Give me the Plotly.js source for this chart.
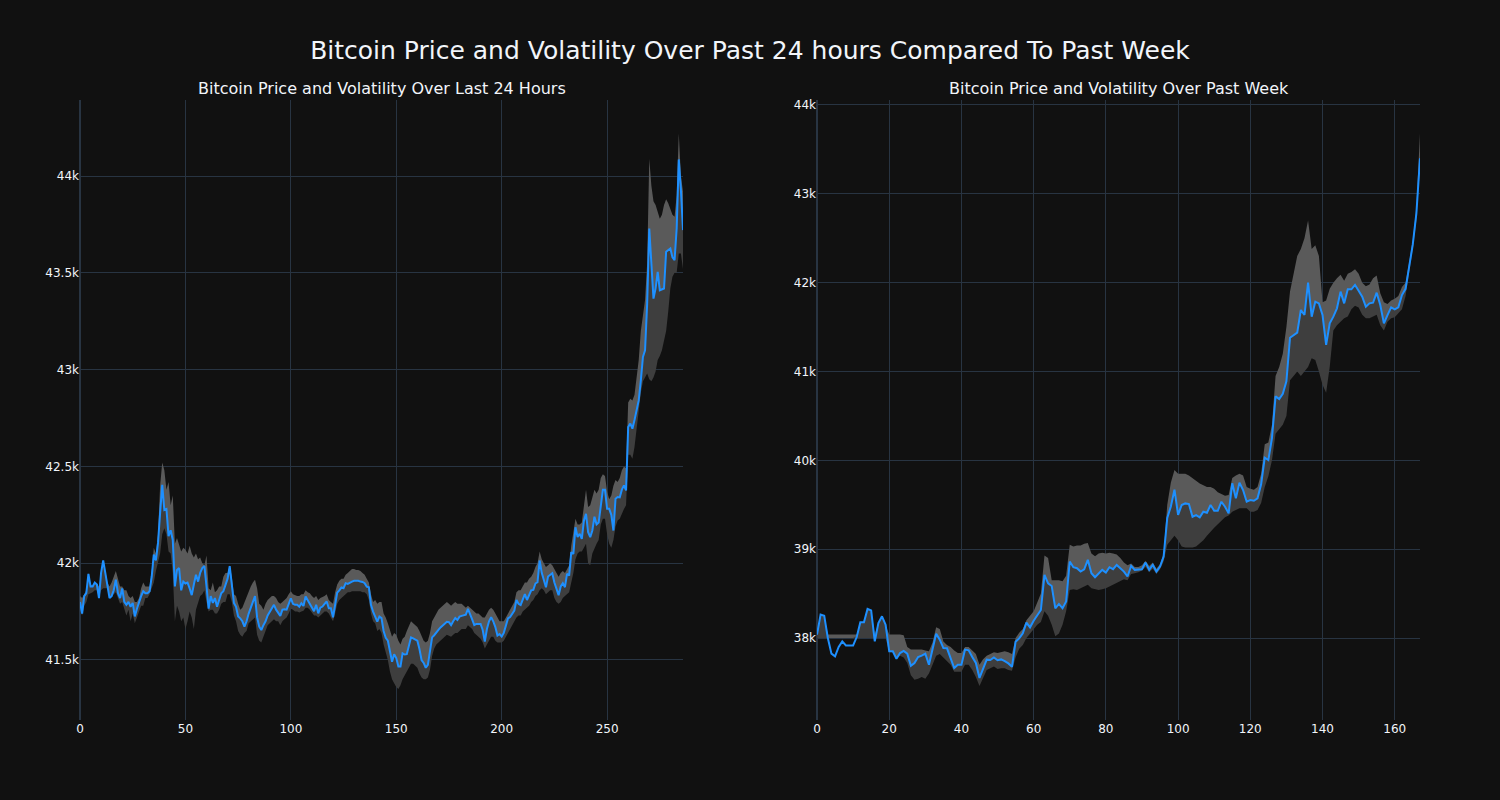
<!DOCTYPE html>
<html>
<head>
<meta charset="utf-8">
<script src="https://cdn.plot.ly/plotly-3.0.1.min.js"></script>
<style>html,body{margin:0;padding:0;background:#111111;}#chart{width:1500px;height:800px;}</style>
</head>
<body>
<div id="chart"></div>
<script>
// ---- Left panel: last 24 hours (index of 5-minute samples) ----
const dayPrice = [
41800,41740,41830,41845,41945,41880,41880,41900,41890,41820,
41950,42015,41950,41890,41820,41830,41860,41915,41845,41820,
41870,41800,41785,41800,41775,41795,41725,41765,41800,41830,
41855,41845,41845,41855,41930,42045,42015,42105,42260,42405,
42275,42280,42140,42170,42120,41880,41965,41975,41860,41905,
41895,41900,41870,41835,41890,41940,41905,41950,41975,41985,
41880,41765,41830,41795,41820,41775,41810,41845,41855,41890,
41920,41985,41880,41795,41775,41725,41715,41700,41672,41700,
41740,41775,41800,41830,41720,41672,41655,41680,41700,41730,
41750,41767,41785,41760,41740,41728,41760,41762,41760,41790,
41819,41790,41785,41785,41775,41793,41779,41828,41810,41790,
41770,41752,41785,41741,41770,41776,41790,41802,41767,41767,
41721,41790,41848,41860,41875,41871,41897,41893,41900,41905,
41909,41909,41909,41905,41903,41897,41879,41876,41785,41750,
41725,41698,41724,41716,41650,41615,41600,41534,41491,41530,
41510,41466,41466,41534,41528,41530,41575,41617,41612,41605,
41600,41557,41500,41485,41460,41475,41550,41617,41628,41645,
41655,41668,41678,41688,41697,41695,41680,41700,41717,41707,
41724,41728,41732,41734,41764,41740,41710,41680,41686,41686,
41686,41655,41595,41660,41700,41721,41700,41670,41626,41634,
41621,41640,41678,41715,41722,41740,41755,41810,41790,41784,
41810,41840,41810,41840,41860,41862,41895,41902,42014,41950,
41910,41876,41931,41940,41948,41900,41865,41835,41880,41897,
41876,41945,41936,42057,42048,42186,42135,42152,42126,42220,
42255,42160,42135,42169,42240,42200,42210,42300,42379,42379,
42281,42281,42250,42169,42333,42342,42340,42380,42402,42376,
42704,42721,42695,42740,42800,42841,42945,43066,43100,43341,
43729,43566,43367,43420,43505,43410,43415,43419,43609,43620,
43626,43580,43566,43729,44086,43928,43721
];
const dayUpper = [
41830,41820,41840,41860,41950,41890,41885,41900,41895,41880,
41950,42015,41960,41900,41880,41900,41930,41960,41920,41880,
41880,41860,41860,41830,41820,41830,41800,41800,41820,41870,
41900,41880,41880,41880,41960,42080,42050,42150,42400,42520,
42480,42380,42420,42300,42350,42100,42130,42090,42060,42080,
42070,42050,42090,42050,42030,42050,42020,42030,42000,41990,
42040,41870,41860,41900,41850,41860,41880,41880,41930,41950,
41950,41990,41930,41840,41830,41790,41760,41770,41800,41820,
41860,41880,41900,41915,41870,41790,41780,41760,41790,41810,
41820,41830,41830,41820,41800,41790,41800,41810,41820,41840,
41855,41840,41835,41830,41830,41840,41840,41860,41850,41845,
41830,41820,41830,41810,41820,41825,41830,41840,41810,41800,
41790,41850,41890,41910,41920,41920,41940,41950,41960,41970,
41970,41965,41965,41960,41950,41940,41920,41900,41840,41800,
41810,41790,41800,41800,41740,41720,41690,41650,41620,41640,
41630,41600,41580,41610,41620,41650,41680,41700,41690,41680,
41670,41650,41620,41600,41590,41600,41640,41700,41720,41740,
41760,41770,41780,41790,41800,41790,41780,41790,41800,41790,
41790,41790,41780,41770,41780,41770,41760,41750,41740,41740,
41730,41720,41720,41740,41760,41770,41760,41740,41720,41700,
41700,41700,41720,41740,41760,41780,41800,41850,41860,41860,
41880,41900,41900,41920,41930,41950,41980,42000,42060,42020,
42000,41980,41990,42000,41990,41970,41950,41930,41950,41960,
41950,41970,41990,42090,42150,42230,42200,42200,42210,42300,
42380,42290,42300,42340,42380,42360,42380,42440,42460,42450,
42370,42330,42350,42400,42430,42420,42440,42480,42500,42490,
42830,42850,42840,42870,42950,43050,43200,43280,43360,43550,
44090,43950,43870,43850,43820,43780,43800,43850,43880,43860,
43830,43800,43790,43900,44220,44000,43920
];
const dayLower = [
41760,41730,41780,41800,41840,41845,41850,41860,41860,41820,
41860,41870,41870,41870,41820,41830,41845,41850,41820,41790,
41800,41760,41730,41760,41700,41740,41690,41720,41750,41780,
41780,41820,41820,41840,41870,41900,41960,42000,42050,42150,
42180,42150,42060,42050,41950,41700,41780,41750,41700,41720,
41660,41700,41750,41720,41660,41760,41800,41830,41840,41860,
41800,41750,41760,41760,41740,41740,41760,41790,41800,41800,
41840,41840,41800,41730,41700,41650,41630,41620,41640,41650,
41690,41700,41710,41720,41630,41600,41590,41620,41650,41680,
41690,41700,41710,41700,41700,41680,41700,41710,41720,41740,
41765,41760,41750,41750,41745,41750,41755,41770,41770,41760,
41745,41730,41730,41720,41730,41740,41750,41750,41740,41720,
41700,41740,41790,41810,41820,41830,41840,41850,41850,41855,
41855,41855,41855,41855,41850,41850,41840,41810,41740,41700,
41690,41650,41660,41640,41580,41540,41500,41440,41400,41380,
41360,41350,41370,41400,41420,41440,41460,41480,41480,41470,
41460,41430,41410,41400,41400,41410,41450,41520,41560,41580,
41590,41600,41610,41620,41630,41625,41620,41630,41640,41640,
41650,41660,41660,41660,41680,41670,41660,41640,41630,41620,
41610,41590,41560,41580,41600,41620,41620,41600,41590,41590,
41590,41600,41620,41640,41660,41680,41700,41720,41730,41730,
41750,41760,41770,41780,41800,41810,41830,41840,41860,41870,
41860,41840,41850,41860,41860,41820,41800,41790,41800,41820,
41830,41840,41850,41900,41950,42020,42050,42060,42060,42080,
42100,42000,41990,42050,42080,42100,42120,42200,42230,42230,
42150,42100,42080,42120,42190,42220,42230,42260,42280,42300,
42560,42560,42540,42600,42700,42800,42880,42940,42960,42980,
42950,42940,42960,42990,43050,43070,43100,43150,43200,43300,
43420,43480,43500,43500,43600,43600,43520
];

// ---- Right panel: past week (hourly samples) ----
const weekPrice = [
38038,38263,38251,38000,37824,37794,37899,37962,37917,37920,
37917,38011,38176,38176,38327,38311,37962,38169,38244,38150,
37850,37850,37767,37831,37854,37824,37688,37719,37786,37801,
37824,37700,37887,38049,37981,37887,37884,37775,37662,37700,
37700,37869,37861,37786,37719,37550,37662,37756,37752,37780,
37750,37759,37740,37714,37676,37958,37996,38052,38173,38120,
38195,38259,38315,38710,38616,38586,38334,38383,38334,38410,
38861,38797,38786,38748,38774,38880,38729,38684,38729,38767,
38737,38797,38774,38823,38786,38748,38692,38812,38767,38767,
38774,38849,38767,38823,38748,38804,38917,39350,39481,39669,
39387,39497,39515,39508,39365,39384,39358,39422,39410,39497,
39433,39433,39534,39478,39403,39741,39572,39749,39666,39534,
39553,39545,39572,39730,40030,40003,40250,40720,40690,40750,
40890,41380,41410,41437,41692,41636,42000,41617,41786,41767,
41636,41300,41542,41617,41711,41899,41767,41925,41925,41974,
41910,41842,41729,41767,41774,41887,41748,41541,41635,41722,
41699,41722,41860,41930,42180,42430,42780,43400
];
const weekUpper = [
38040,38263,38251,38040,38040,38040,38040,38040,38040,38040,
38040,38040,38176,38176,38327,38311,38040,38169,38244,38150,
38040,38040,38040,38040,38030,37900,37870,37870,37870,37870,
37860,37850,37950,38120,38100,37960,37920,37900,37860,37830,
37830,37900,37900,37860,37820,37700,37760,37800,37820,37840,
37830,37840,37850,37840,37820,38000,38060,38100,38200,38250,
38300,38400,38500,38930,38900,38650,38650,38650,38640,38700,
39050,39030,39040,39040,39060,39070,38950,38920,38950,38960,
38950,38960,38950,38940,38900,38850,38820,38840,38800,38800,
38820,38870,38810,38850,38780,38830,38950,39500,39750,39890,
39850,39850,39850,39830,39800,39760,39740,39720,39700,39700,
39680,39640,39620,39600,39610,39800,39830,39850,39830,39700,
39680,39670,39700,39850,40180,40200,40400,40950,41050,41200,
41500,41900,42100,42300,42380,42500,42700,42380,42420,42300,
41780,41800,41930,42000,42050,42090,42020,42100,42120,42150,
42100,42000,41960,41980,42050,42080,41880,41780,41760,41800,
41820,41850,41950,42000,42230,42480,42850,43680
];
const weekLower = [
38000,38000,38000,38000,38000,38000,38000,38000,38000,38000,
38000,38000,38000,38000,38000,38000,38000,38000,38000,38000,
37840,37840,37760,37800,37780,37720,37580,37530,37540,37560,
37540,37600,37700,37800,37820,37780,37740,37700,37620,37620,
37620,37700,37700,37640,37560,37460,37560,37640,37660,37680,
37650,37660,37660,37640,37630,37780,37880,37920,38000,38050,
38100,38150,38180,38300,38250,38150,38020,38050,38150,38300,
38540,38550,38540,38560,38580,38600,38560,38550,38540,38550,
38560,38580,38600,38620,38640,38660,38650,38720,38730,38740,
38760,38800,38740,38780,38720,38770,38860,39050,39100,39150,
39100,39030,39020,39020,39020,39030,39060,39100,39150,39200,
39240,39280,39320,39360,39380,39420,39440,39460,39460,39460,
39420,39420,39440,39520,39700,39820,40000,40300,40350,40400,
40500,40900,40950,41000,40950,41000,41050,41150,41130,41000,
40850,40760,41050,41460,41520,41560,41600,41620,41700,41740,
41720,41640,41600,41600,41620,41640,41520,41460,41560,41600,
41610,41650,41700,41850,42100,42380,42700,43300
];

const mainTitle = "Bitcoin Price and Volatility Over Past 24 hours Compared To Past Week";
const leftTitle = "Bitcoin Price and Volatility Over Last 24 Hours";
const rightTitle = "Bitcoin Price and Volatility Over Past Week";

const FONT = "DejaVu Sans, Verdana, sans-serif";
const TXT = "#f2f5fa";
const GRID = "#283442";
const LINE = "#1e90ff";
const LIGHT = "rgb(90,90,90)";
const DARK = "rgb(62,62,62)";

function idx(n) { return Array.from({length: n}, (_, i) => i); }

function bandTraces(price, upper, lower, xa, ya) {
  const x = idx(price.length);
  const mid = price.map((p, i) => Math.min(Math.max(p, lower[i]), upper[i]));
  const base = {x: x, xaxis: xa, yaxis: ya, mode: "lines", showlegend: false, hoverinfo: "skip"};
  return [
    Object.assign({}, base, {y: lower, line: {width: 0, color: DARK}}),
    Object.assign({}, base, {y: mid, line: {width: 0, color: DARK}, fill: "tonexty", fillcolor: DARK}),
    Object.assign({}, base, {y: upper, line: {width: 0, color: LIGHT}, fill: "tonexty", fillcolor: LIGHT}),
    Object.assign({}, base, {y: price, line: {width: 2, color: LINE}, hoverinfo: "x+y"})
  ];
}

const data = [].concat(
  bandTraces(dayPrice, dayUpper, dayLower, "x", "y"),
  bandTraces(weekPrice, weekUpper, weekLower, "x2", "y2")
);

const axisCommon = {
  gridcolor: GRID, gridwidth: 1, zeroline: true, zerolinecolor: GRID, zerolinewidth: 2,
  showline: false, ticks: "", tickfont: {family: FONT, size: 12, color: TXT}
};

const layout = {
  width: 1500, height: 800,
  paper_bgcolor: "#111111", plot_bgcolor: "#111111",
  margin: {l: 80, r: 80, t: 100, b: 80},
  font: {family: FONT, color: TXT, size: 12},
  showlegend: false,
  title: {text: mainTitle, x: 0.5, xanchor: "center", y: 0.9375, yanchor: "middle", font: {family: FONT, size: 25, color: TXT}},
  xaxis: Object.assign({}, axisCommon, {domain: [0, 0.45], range: [0, 286], dtick: 50, anchor: "y"}),
  yaxis: Object.assign({}, axisCommon, {domain: [0, 1], range: [41190, 44393], dtick: 500, tickformat: "~s", anchor: "x", zeroline: false}),
  xaxis2: Object.assign({}, axisCommon, {domain: [0.55, 1], range: [0, 167], dtick: 20, anchor: "y2"}),
  yaxis2: Object.assign({}, axisCommon, {domain: [0, 1], range: [37077, 44056], dtick: 1000, tickformat: "~s", anchor: "x2", zeroline: false}),
  annotations: [
    {text: leftTitle, xref: "paper", yref: "paper", x: 0.225, y: 1, xanchor: "center", yanchor: "bottom", showarrow: false, font: {family: FONT, size: 16, color: TXT}},
    {text: rightTitle, xref: "paper", yref: "paper", x: 0.775, y: 1, xanchor: "center", yanchor: "bottom", showarrow: false, font: {family: FONT, size: 16, color: TXT}}
  ]
};

Plotly.newPlot("chart", data, layout, {displayModeBar: false, staticPlot: true});
</script>
</body>
</html>
